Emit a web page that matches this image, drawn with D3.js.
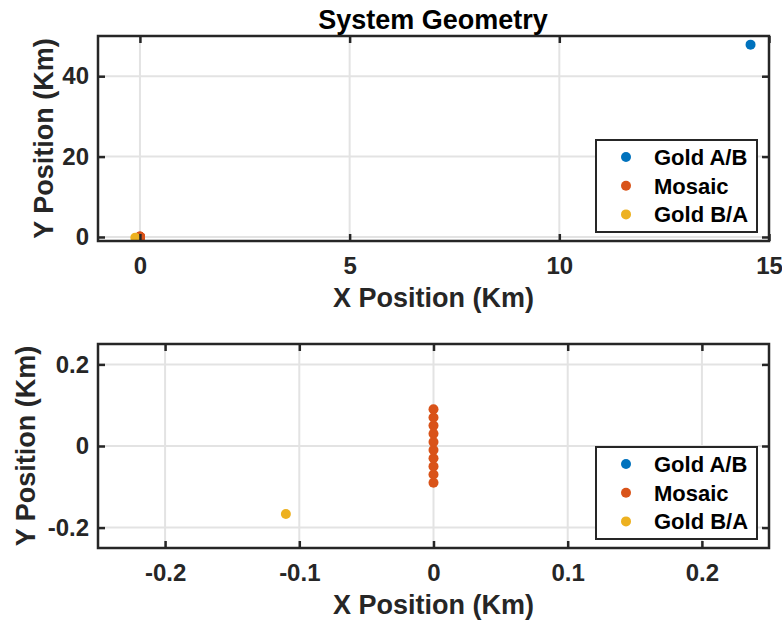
<!DOCTYPE html>
<html>
<head>
<meta charset="utf-8">
<script src="https://cdn.jsdelivr.net/npm/d3@7"></script>
<style>
  html, body { margin: 0; padding: 0; background: #fff; }
  svg { display: block; font-family: "Liberation Sans", Arial, Helvetica, sans-serif; font-weight: bold; }
</style>
</head>
<body>
<svg id="chart" width="782" height="623"></svg>
<script>
// Station positions in km
const seriesNames = ["Gold A/B", "Mosaic", "Gold B/A"];
const seriesColors = ["#0072BD", "#D95319", "#EDB120"];
const goldABx = [14.56];
const goldABy = [47.85];
const mosaicX = [0, 0, 0, 0, 0, 0, 0, 0, 0, 0];
const mosaicY = [-0.09, -0.07, -0.05, -0.03, -0.01, 0.01, 0.03, 0.05, 0.07, 0.09];
const goldBAx = [-0.11];
const goldBAy = [-0.1667];

// Axis limits and ticks for the overview and zoomed panels
const topXDomain = [-1, 15], topYDomain = [-1, 50];
const topXTicks = [0, 5, 10, 15], topYTicks = [0, 20, 40];
const botXDomain = [-0.25, 0.25], botYDomain = [-0.25, 0.25];
const botXTicks = [-0.2, -0.1, 0, 0.1, 0.2], botYTicks = [-0.2, 0, 0.2];
const botXTickLabels = ["-0.2", "-0.1", "0", "0.1", "0.2"];
const botYTickLabels = ["-0.2", "0", "0.2"];

const title = "System Geometry";
const xLabel = "X Position (Km)";
const yLabel = "Y Position (Km)";

const series = [
  { name: seriesNames[0], color: seriesColors[0], x: goldABx, y: goldABy },
  { name: seriesNames[1], color: seriesColors[1], x: mosaicX, y: mosaicY },
  { name: seriesNames[2], color: seriesColors[2], x: goldBAx, y: goldBAy }
];

const svg = d3.select("#chart");
const axisColor = "#262626";
const gridColor = "#e3e3e3";
const tickLen = 7;

function labeler(ticks, labels) {
  return v => labels ? labels[ticks.indexOf(v)] : String(v);
}

function panel(opts) {
  const { left, right, top, bottom, xDomain, yDomain, xTicks, yTicks, xLabels, yLabels, id, yLabelX } = opts;
  const x = d3.scaleLinear().domain(xDomain).range([left, right]);
  const y = d3.scaleLinear().domain(yDomain).range([bottom, top]);
  const g = svg.append("g");

  g.append("clipPath").attr("id", id)
    .append("rect").attr("x", left).attr("y", top)
    .attr("width", right - left).attr("height", bottom - top);

  // grid
  g.append("g").selectAll("line").data(xTicks).join("line")
    .attr("x1", d => x(d)).attr("x2", d => x(d))
    .attr("y1", top).attr("y2", bottom)
    .attr("stroke", gridColor).attr("stroke-width", 2);
  g.append("g").selectAll("line").data(yTicks).join("line")
    .attr("x1", left).attr("x2", right)
    .attr("y1", d => y(d)).attr("y2", d => y(d))
    .attr("stroke", gridColor).attr("stroke-width", 2);

  // data
  const dg = g.append("g").attr("clip-path", `url(#${id})`);
  series.forEach(s => {
    dg.append("g").selectAll("circle").data(s.x.map((v, i) => [v, s.y[i]])).join("circle")
      .attr("cx", d => x(d[0])).attr("cy", d => y(d[1]))
      .attr("r", 5).attr("fill", s.color);
  });

  // axes with mirrored inward ticks
  const bottomAxis = d3.axisBottom(x).tickValues(xTicks).tickSizeInner(-tickLen).tickSizeOuter(0).tickPadding(16).tickFormat(labeler(xTicks, xLabels));
  const leftAxis = d3.axisLeft(y).tickValues(yTicks).tickSizeInner(-tickLen).tickSizeOuter(0).tickPadding(9).tickFormat(labeler(yTicks, yLabels));
  const topAxis = d3.axisTop(x).tickValues(xTicks).tickSizeInner(-tickLen).tickSizeOuter(0).tickFormat("");
  const rightAxis = d3.axisRight(y).tickValues(yTicks).tickSizeInner(-tickLen).tickSizeOuter(0).tickFormat("");

  const styleAxis = sel => {
    sel.select(".domain").remove();
    sel.selectAll(".tick line").attr("stroke", axisColor).attr("stroke-width", 2.5);
    sel.selectAll(".tick text").attr("fill", axisColor)
      .style("font-size", "24px").style("font-weight", "bold")
      .style("font-family", "'Liberation Sans', Arial, sans-serif");
  };
  g.append("g").attr("transform", `translate(0,${bottom})`).call(bottomAxis).call(styleAxis);
  g.append("g").attr("transform", `translate(${left},0)`).call(leftAxis).call(styleAxis);
  g.append("g").attr("transform", `translate(0,${top})`).call(topAxis).call(styleAxis);
  g.append("g").attr("transform", `translate(${right},0)`).call(rightAxis).call(styleAxis);

  g.append("rect").attr("x", left).attr("y", top)
    .attr("width", right - left).attr("height", bottom - top)
    .attr("fill", "none").attr("stroke", axisColor).attr("stroke-width", 2.5);

  // axis labels
  g.append("text").attr("x", (left + right) / 2).attr("y", bottom + 66)
    .attr("text-anchor", "middle").attr("fill", axisColor)
    .style("font-size", "27px").text(xLabel);
  g.append("text")
    .attr("transform", `translate(${yLabelX},${(top + bottom) / 2}) rotate(-90)`)
    .attr("text-anchor", "middle").attr("fill", axisColor)
    .style("font-size", "27px").text(yLabel);

  // legend
  const lw = 161, lh = 92;
  const lx = right - 12 - lw, ly = bottom - 9 - lh;
  const lg = g.append("g");
  lg.append("rect").attr("x", lx).attr("y", ly).attr("width", lw).attr("height", lh)
    .attr("fill", "#fff").attr("stroke", axisColor).attr("stroke-width", 2);
  series.forEach((s, i) => {
    const cy = ly + 17 + i * 28.7;
    lg.append("circle").attr("cx", lx + 30).attr("cy", cy).attr("r", 5).attr("fill", s.color);
    lg.append("text").attr("x", lx + 58).attr("y", cy + 8)
      .attr("fill", "#000").style("font-size", "22px").text(s.name);
  });
  return g;
}

panel({ left: 98, right: 769, top: 36, bottom: 241, xDomain: topXDomain, yDomain: topYDomain,
        xTicks: topXTicks, yTicks: topYTicks, id: "clipTop", yLabelX: 53 });
panel({ left: 98, right: 769, top: 344, bottom: 548, xDomain: botXDomain, yDomain: botYDomain,
        xTicks: botXTicks, yTicks: botYTicks, xLabels: botXTickLabels, yLabels: botYTickLabels,
        id: "clipBot", yLabelX: 35 });

svg.append("text").attr("x", 433).attr("y", 29).attr("text-anchor", "middle")
  .attr("fill", "#000").style("font-size", "27px").text(title);
</script>
</body>
</html>
